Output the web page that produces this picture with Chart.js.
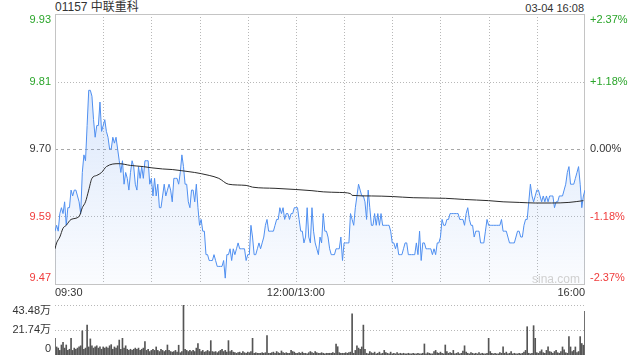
<!DOCTYPE html>
<html>
<head>
<meta charset="utf-8">
<script src="https://cdn.jsdelivr.net/npm/chart.js@4.4.1/dist/chart.umd.min.js"></script>
<style>
  body { margin: 0; width: 640px; height: 360px; background: #fff; overflow: hidden; position: relative;
         font-family: Arial, "Liberation Sans", "Noto Sans CJK SC", sans-serif; color: #333; }
  canvas { position: absolute; left: 0; }
  #priceCanvas { top: 0; }
  #volCanvas { top: 300px; }
  .txt { position: absolute; white-space: nowrap; }
  #title { left: 55px; top: 0; font-size: 12px; line-height: 15px; }
  #stamp { right: 56px; top: 1px; font-size: 11px; line-height: 15px; }
  #mark { left: 532px; top: 272px; font-size: 12px; color: #d0d0d0; }
</style>
</head>
<body>
<div class="txt" id="title">01157 中联重科</div>
<div class="txt" id="stamp">03-04 16:08</div>
<canvas id="priceCanvas" width="640" height="300"></canvas>
<canvas id="volCanvas" width="640" height="60"></canvas>
<div class="txt" id="mark">sina.com</div>
<script>
// minute-by-minute last price, 09:30 -> 16:00 (lunch break removed), 331 points
const prices = [
  9.56,9.57,9.56,9.59,9.60,9.59,9.61,9.57,9.60,9.60,
  9.63,9.62,9.63,9.63,9.62,9.61,9.59,9.66,9.69,9.68,
  9.74,9.80,9.80,9.79,9.75,9.72,9.74,9.74,9.78,9.73,
  9.74,9.75,9.73,9.72,9.70,9.70,9.72,9.71,9.72,9.70,
  9.68,9.66,9.68,9.64,9.66,9.65,9.63,9.66,9.68,9.67,
  9.64,9.63,9.67,9.65,9.67,9.65,9.68,9.68,9.68,9.64,
  9.65,9.62,9.65,9.62,9.64,9.60,9.60,9.62,9.64,9.62,
  9.63,9.64,9.63,9.61,9.65,9.65,9.65,9.64,9.66,9.69,
  9.67,9.64,9.64,9.61,9.60,9.63,9.63,9.61,9.64,9.60,
  9.57,9.58,9.56,9.56,9.52,9.52,9.51,9.51,9.51,9.52,
  9.51,9.50,9.50,9.50,9.50,9.51,9.48,9.52,9.52,9.53,
  9.51,9.53,9.52,9.53,9.54,9.53,9.53,9.53,9.53,9.51,
  9.52,9.52,9.57,9.55,9.52,9.52,9.53,9.54,9.53,9.54,
  9.55,9.57,9.58,9.56,9.56,9.56,9.56,9.57,9.58,9.58,
  9.60,9.59,9.60,9.58,9.59,9.59,9.58,9.59,9.59,9.60,
  9.60,9.60,9.58,9.56,9.56,9.54,9.55,9.60,9.55,9.54,
  9.60,9.56,9.54,9.53,9.52,9.55,9.54,9.59,9.56,9.56,
  9.55,9.53,9.52,9.52,9.52,9.53,9.53,9.53,9.55,9.51,
  9.54,9.54,9.54,9.54,9.59,9.58,9.57,9.60,9.62,9.64,
  9.63,9.62,9.62,9.61,9.58,9.63,9.60,9.57,9.57,9.59,
  9.57,9.59,9.57,9.59,9.57,9.57,9.57,9.57,9.57,9.56,
  9.54,9.54,9.53,9.54,9.52,9.52,9.52,9.53,9.54,9.54,
  9.52,9.52,9.52,9.52,9.52,9.54,9.52,9.56,9.51,9.54,
  9.54,9.53,9.53,9.53,9.53,9.52,9.53,9.52,9.54,9.54,
  9.55,9.58,9.57,9.57,9.58,9.58,9.59,9.59,9.59,9.59,
  9.59,9.59,9.58,9.58,9.58,9.57,9.59,9.60,9.58,9.57,
  9.57,9.55,9.56,9.56,9.56,9.54,9.54,9.54,9.56,9.58,
  9.57,9.57,9.57,9.57,9.57,9.57,9.57,9.57,9.58,9.56,
  9.56,9.56,9.55,9.54,9.54,9.54,9.54,9.55,9.56,9.56,
  9.55,9.55,9.57,9.58,9.58,9.61,9.64,9.62,9.61,9.62,
  9.63,9.63,9.62,9.61,9.62,9.61,9.62,9.61,9.62,9.62,
  9.62,9.60,9.61,9.61,9.62,9.62,9.62,9.63,9.64,9.66,
  9.67,9.64,9.64,9.64,9.65,9.66,9.67,9.64,9.60,9.62,
  9.63
];

// average price line, read at a few minutes
const avgMinutes = [0,1,3,5,7,10,15,17,19,21,23,26,29,32,40,47,55,60,67,73,
  79,87,91,96,102,108,119,123,137,150,160,167,177,184,185,197,210,223,243,255,
  270,279,289,299,309,320,329];
const avgValues = [9.53,9.54,9.55,9.565,9.57,9.58,9.585,9.60,9.61,9.63,
  9.65,9.655,9.66,9.67,9.675,9.672,9.67,9.668,9.666,9.665,
  9.663,9.66,9.658,9.655,9.65,9.64,9.638,9.635,9.633,9.631,
  9.629,9.627,9.626,9.624,9.621,9.62,9.619,9.617,9.616,9.614,
  9.612,9.61,9.609,9.608,9.608,9.609,9.612];

// volume per minute, in 万
const volumes = [
  14.5,7,6,4,8.7,11,6,8.7,4,5,
  14.5,4,6,5,6,7,8,21,5,6,
  26,7,14,8,6,7,8,6,7,5,
  7,6,7,6,8,9,5,7,6,8,
  13,5,14.5,6,8,5,4,5,4,5,
  6,5,6,4,5,6,11.6,4,5,3,
  4,5,4,7,4,3,5,4,3,4,
  8.7,4,3,2.5,3,4,2.5,8.5,2,3,
  43.48,5,4,3,4,3,4,3,6,10,
  5,3,4,2.5,3,4,3,12.5,3,2.5,
  3,2,3,4,5,3,4,2.5,12.5,3,
  4,2.5,2,1.5,2,2.5,1.5,3,2,1.5,
  2.5,2,3,14.5,1.5,2,1.5,1.5,1.5,2,
  1.5,2,16.8,1.5,1.5,2,2.5,1.5,3,2,
  1.5,3.5,2,1.5,2,1.5,1.5,4,3,2.5,
  1.5,1.5,2,1.5,2.5,1.5,1.5,1,2,3,
  2,1.5,3,2,1.5,1.5,2,1.5,1,1.5,
  1.5,1.5,1.5,2,1.5,9.6,7.2,2,1.5,1.5,
  1.5,2,1.5,2,2.5,35.7,1.5,4,8,6,
  5,7,26,5,1.5,1,3,2,1.5,2.5,
  1,1.5,2.5,1,1.5,4,2,1.5,1,2.5,
  1,1.5,1,2,1,1.5,1,1.5,1,1,
  1.5,1,1,1.5,1,1,1.5,1,1,1.5,
  9.6,1,2,1.5,1,1,3,4,2,1.5,
  2.5,1.5,1,8.7,3,1.5,2,1.5,4,1,
  1.5,2,1,1.5,3.5,8,2.5,1.5,1,2,
  1.5,1,1.5,1,2,1,1.5,1,1,1.5,
  14.5,3,1.5,1,1.5,1,1,2,1.5,7.2,
  1.5,2.5,1,1.5,3,1,1.5,1,1,1.5,
  1,1.5,2.5,4,24.6,1.5,1,1.5,25.5,14.5,
  2,1.5,3,4.5,2,1.5,4,7,3,2.5,
  1.5,3,4,2,1.5,3,7,4.5,2,1.5,
  16,7,3,4,7,2,3,16,10,8.5,
  38
];

const prevClose = 9.70;
const priceTickValues = [9.47, 9.585, 9.70, 9.815, 9.93];
const priceTickLabels = ['9.47', '9.59', '9.70', '9.81', '9.93'];
const pctTickLabels = ['-2.37%', '-1.18%', '0.00%', '+1.18%', '+2.37%'];
const timeTickMinutes = [0, 150, 330];
const timeTickLabels = ['09:30', '12:00/13:00', '16:00'];
const volTickValues = [0, 21.74, 43.48];
const volTickLabels = ['0', '21.74万', '43.48万'];

const GREEN = '#2aa52a', RED = '#f03c3c', DARK = '#333';
const GRID = '#b8b8b8';
const FONT = '11px Arial, "Liberation Sans", "Noto Sans CJK SC", sans-serif';

function tickColor(v) {
  if (Math.abs(v - prevClose) < 1e-6) return DARK;
  return v > prevClose ? GREEN : RED;
}

function hline(ctx, x0, x1, y) { ctx.beginPath(); ctx.moveTo(x0, y); ctx.lineTo(x1, y); ctx.stroke(); }
function vline(ctx, x, y0, y1) { ctx.beginPath(); ctx.moveTo(x, y0); ctx.lineTo(x, y1); ctx.stroke(); }

const priceDecor = {
  id: 'priceDecor',
  beforeDatasetsDraw(chart) {
    const { ctx, chartArea: a, scales: { x, y } } = chart;
    ctx.save();
    ctx.lineWidth = 1;
    ctx.strokeStyle = GRID;
    ctx.setLineDash([1, 2]);
    for (let m = 30; m < 330; m += 30) {
      vline(ctx, Math.round(x.getPixelForValue(m)) + 0.5, a.top, a.bottom);
    }
    priceTickValues.forEach(v => {
      if (v === priceTickValues[0] || v === priceTickValues[4]) return;
      ctx.setLineDash(v === prevClose ? [3, 3] : [1, 2]);
      ctx.strokeStyle = v === prevClose ? '#a8a8a8' : GRID;
      hline(ctx, a.left, a.right, Math.round(y.getPixelForValue(v)) + 0.5);
    });
    ctx.setLineDash([]);
    ctx.strokeStyle = '#c4c4c4';
    ctx.strokeRect(Math.round(a.left) + 0.5, Math.round(a.top) + 0.5,
      Math.round(a.width) - 1, Math.round(a.height));
    ctx.restore();
  },
  afterDraw(chart) {
    const { ctx, chartArea: a, scales: { x, y } } = chart;
    ctx.save();
    ctx.font = FONT;
    ctx.textBaseline = 'middle';
    priceTickValues.forEach((v, i) => {
      let py = y.getPixelForValue(v);
      py = Math.min(Math.max(py, a.top + 6), a.bottom - 6);
      ctx.fillStyle = tickColor(v);
      ctx.textAlign = 'right';
      ctx.fillText(priceTickLabels[i], a.left - 4, py);
      ctx.textAlign = 'left';
      ctx.fillText(pctTickLabels[i], a.right + 5, py);
    });
    ctx.fillStyle = DARK;
    timeTickMinutes.forEach((m, i) => {
      const px = x.getPixelForValue(m);
      ctx.textAlign = i === 0 ? 'left' : (i === timeTickMinutes.length - 1 ? 'right' : 'center');
      ctx.fillText(timeTickLabels[i], px, a.bottom + 9);
    });
    ctx.restore();
  }
};

const volDecor = {
  id: 'volDecor',
  beforeDatasetsDraw(chart) {
    const { ctx, chartArea: a, scales: { y } } = chart;
    ctx.save();
    ctx.lineWidth = 1;
    ctx.strokeStyle = GRID;
    ctx.setLineDash([1, 2]);
    [volTickValues[1], volTickValues[2]].forEach(v => {
      hline(ctx, a.left, a.right, Math.round(y.getPixelForValue(v)) + 0.5);
    });
    ctx.restore();
  },
  afterDraw(chart) {
    const { ctx, chartArea: a, scales: { y } } = chart;
    ctx.save();
    ctx.font = FONT;
    ctx.textBaseline = 'middle';
    ctx.textAlign = 'right';
    ctx.fillStyle = DARK;
    volTickValues.forEach((v, i) => {
      let py = y.getPixelForValue(v);
      py = Math.min(Math.max(py, a.top + 6), a.bottom - 6);
      ctx.fillText(volTickLabels[i], a.left - 4, py);
    });
    ctx.restore();
  }
};

new Chart(document.getElementById('priceCanvas').getContext('2d'), {
  type: 'line',
  data: {
    datasets: [{
      data: avgMinutes.map((m, i) => ({ x: m, y: avgValues[i] })),
      borderColor: '#2b2b2b',
      borderWidth: 1,
      pointRadius: 0,
      fill: false,
      cubicInterpolationMode: 'monotone'
    }, {
      data: prices.map((p, i) => ({ x: i, y: p })),
      borderColor: '#4f8ff0',
      borderWidth: 1,
      pointRadius: 0,
      tension: 0,
      fill: 'start',
      backgroundColor: (c) => {
        const area = c.chart.chartArea;
        if (!area) return 'rgba(120,165,240,0.15)';
        const g = c.chart.ctx.createLinearGradient(0, area.top, 0, area.bottom);
        g.addColorStop(0, 'rgba(110,160,240,0.32)');
        g.addColorStop(1, 'rgba(110,160,240,0.03)');
        return g;
      }
    }]
  },
  options: {
    responsive: false,
    animation: false,
    events: [],
    layout: { padding: { left: 55, right: 55, top: 14, bottom: 16 } },
    plugins: { legend: { display: false }, tooltip: { enabled: false } },
    scales: {
      x: { type: 'linear', min: 0, max: 330, display: false },
      y: { min: priceTickValues[0], max: priceTickValues[4], display: false }
    }
  },
  plugins: [priceDecor]
});

new Chart(document.getElementById('volCanvas').getContext('2d'), {
  type: 'bar',
  data: {
    datasets: [{
      data: volumes.map((v, i) => ({ x: i, y: v })),
      backgroundColor: '#555555',
      borderWidth: 0,
      barThickness: 1
    }]
  },
  options: {
    responsive: false,
    animation: false,
    events: [],
    layout: { padding: { left: 55, right: 55, top: 5, bottom: 5 } },
    plugins: { legend: { display: false }, tooltip: { enabled: false } },
    scales: {
      x: { type: 'linear', min: 0, max: 330, offset: false, display: false },
      y: { min: 0, max: volTickValues[2], display: false }
    }
  },
  plugins: [volDecor]
});
</script>
</body>
</html>
